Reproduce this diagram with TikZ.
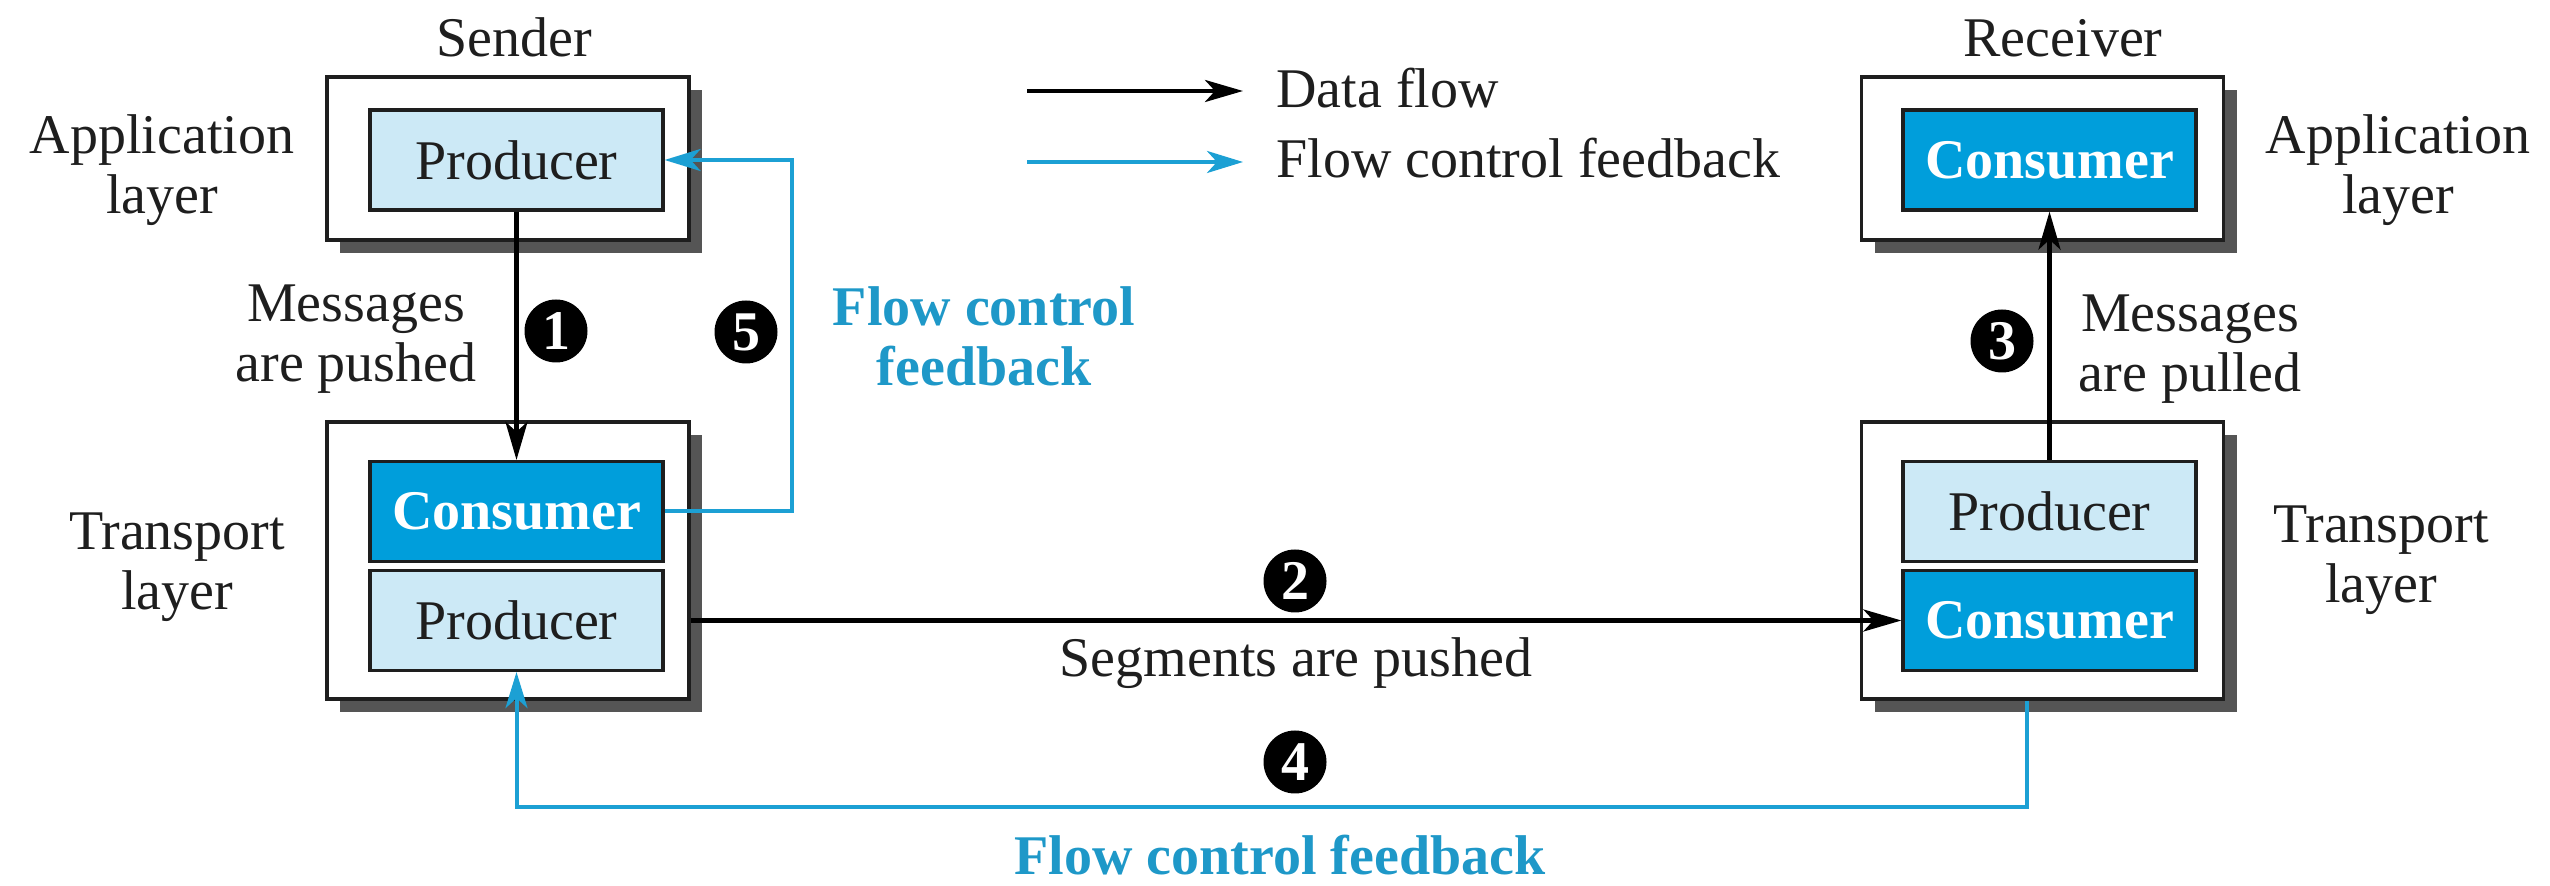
\documentclass[tikz,border=0pt]{standalone}
\usepackage{fontspec}
\setmainfont{Liberation Serif}
\usetikzlibrary{arrows.meta,shadows}
\definecolor{cdark}{RGB}{0,158,219}
\definecolor{clight}{RGB}{204,233,246}
\definecolor{cline}{RGB}{28,160,212}
\definecolor{ctext}{RGB}{30,152,200}
\definecolor{cshadow}{RGB}{85,85,85}
\definecolor{cink}{RGB}{30,30,30}
\begin{document}
\begin{tikzpicture}[x=0.5pt,y=-0.5pt,
  every node/.style={font=\fontsize{28pt}{30pt}\selectfont, text=cink},
  outerbox/.style={draw=cink, line width=1.6pt, fill=white, minimum width=181pt, inner sep=0pt,
    drop shadow={shadow xshift=6.5pt, shadow yshift=-6.5pt, fill=cshadow, opacity=1}},
  prodbox/.style={draw=cink, line width=1.6pt, fill=clight, minimum width=146.5pt, minimum height=50pt, inner sep=0pt},
  consbox/.style={prodbox, fill=cdark, text=white, font=\fontsize{28pt}{30pt}\selectfont\bfseries},
  txtlbl/.style={align=center, inner sep=0pt},
  bluelbl/.style={txtlbl, text=ctext, font=\fontsize{28pt}{30pt}\selectfont\bfseries},
  stepnum/.style={circle, fill=black, text=white, minimum size=31.5pt, inner sep=0pt, font=\fontsize{28pt}{28pt}\selectfont\bfseries},
  dataflow/.style={draw=black, line width=2.2pt, -{Stealth[length=19pt,width=11pt,inset=5pt]}},
  fbflow/.style={draw=cline, line width=2pt, -{Stealth[length=18pt,width=11pt,inset=5pt]}},
]
\useasboundingbox (0,0) rectangle (2550,886);

% outer boxes
\node[outerbox, minimum height=81.5pt] (sApp) at (508,158.5) {};
\node[outerbox, minimum height=138.5pt] (sTr) at (508,560.5) {};
\node[outerbox, minimum height=81.5pt] (rApp) at (2042.5,158.5) {};
\node[outerbox, minimum height=138.5pt] (rTr) at (2042.5,560.5) {};

% inner boxes
\node[prodbox] (sP) at (516.5,160) {Producer};
\node[consbox] (sTC) at (516.5,511.5) {Consumer};
\node[prodbox] (sTP) at (516.5,620.5) {Producer};
\node[consbox] (rC) at (2049.5,160) {Consumer};
\node[prodbox] (rTP) at (2049.5,511.5) {Producer};
\node[consbox] (rTC) at (2049.5,620.5) {Consumer};

% labels
\node[anchor=base, inner sep=0pt] (sender) at (514,57) {Sender};
\node[anchor=base, inner sep=0pt] (receiver) at (2063,57) {Receiver};
\node[txtlbl] (sAppL) at (162,170) {Application\\layer};
\node[txtlbl] (rAppL) at (2398,170) {Application\\layer};
\node[txtlbl] (sTrL) at (177,567) {Transport\\layer};
\node[txtlbl] (rTrL) at (2381,560) {Transport\\layer};
\node[txtlbl] (msgPush) at (356,339.5) {Messages\\are pushed};
\node[txtlbl] (msgPull) at (2190,349.5) {Messages\\are pulled};
\node[bluelbl] (fcMid) at (984,336) {Flow control\\feedback};
\node[anchor=base, inner sep=0pt] (segs) at (1296,677) {Segments are pushed};
\node[bluelbl, anchor=base] (fcBot) at (1280,875) {Flow control feedback};

% step numbers
\node[stepnum] (n1) at (556,331) {1};
\node[stepnum] (n5) at (746,332) {5};
\node[stepnum] (n2) at (1295,581) {2};
\node[stepnum] (n4) at (1295,762) {4};
\node[stepnum] (n3) at (2002,341) {3};

% legend
\coordinate (lgA) at (1027,91);
\coordinate (lgB) at (1027,162);
\node[anchor=base west, inner xsep=16.5pt, inner ysep=0pt] (lgD) at (1243,108) {Data flow};
\node[anchor=base west, inner xsep=16.5pt, inner ysep=0pt] (lgF) at (1243,178) {Flow control feedback};
\draw[dataflow] (lgA) -- (lgA -| lgD.west);
\draw[fbflow] (lgB) -- (lgB -| lgF.west);

% connectors
\draw[dataflow] (sP.south) -- (sTC.north);
\draw[dataflow] (sTr.east |- sTP.east) -- (rTC.west);
\draw[dataflow] (rTP.north) -- (rC.south);
\coordinate (fbR) at (2027,807);
\draw[fbflow] (rTr.south -| fbR) -- (fbR) -| (sTP.south);
\coordinate (fbX) at (792,0);
\draw[fbflow] (sTC.east) -- (sTC.east -| fbX) -- (sP.east -| fbX) -- (sP.east);
\end{tikzpicture}
\end{document}
